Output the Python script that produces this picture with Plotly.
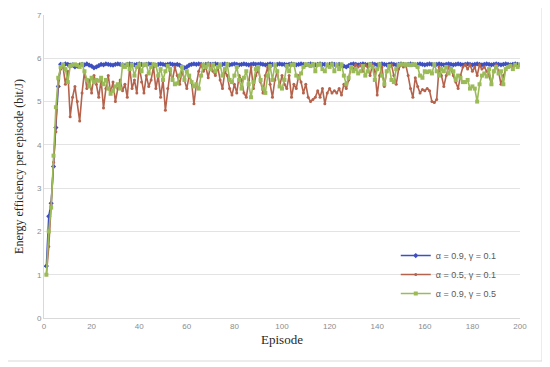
import plotly.graph_objects as go

episodes = list(range(1, 201))

blue_a09_g01 = [
    1.2, 2.35, 2.65, 3.5, 4.4, 5.35, 5.86, 5.85, 5.87, 5.86,
    5.84, 5.85, 5.8, 5.82, 5.85, 5.86, 5.85, 5.87, 5.84, 5.82,
    5.78, 5.8, 5.83, 5.86, 5.85, 5.87, 5.86, 5.85, 5.84, 5.86,
    5.87, 5.86, 5.85, 5.83, 5.86, 5.87, 5.86, 5.85, 5.86, 5.87,
    5.86, 5.85, 5.86, 5.87, 5.86, 5.85, 5.84, 5.86, 5.87, 5.86,
    5.85, 5.86, 5.87, 5.86, 5.85, 5.86, 5.84, 5.8, 5.78, 5.8,
    5.84, 5.86, 5.87, 5.86, 5.87, 5.86, 5.85, 5.86, 5.87, 5.86,
    5.86, 5.87, 5.86, 5.85, 5.86, 5.87, 5.86, 5.85, 5.86, 5.87,
    5.86, 5.85, 5.86, 5.87, 5.86, 5.85, 5.86, 5.87, 5.86, 5.86,
    5.87, 5.86, 5.85, 5.86, 5.87, 5.86, 5.85, 5.86, 5.87, 5.86,
    5.86, 5.85, 5.86, 5.87, 5.86, 5.85, 5.86, 5.87, 5.86, 5.85,
    5.86, 5.87, 5.86, 5.85, 5.86, 5.87, 5.86, 5.86, 5.85, 5.86,
    5.87, 5.86, 5.85, 5.86, 5.84, 5.82, 5.8, 5.83, 5.86, 5.87,
    5.86, 5.85, 5.86, 5.87, 5.86, 5.85, 5.86, 5.87, 5.86, 5.85,
    5.86, 5.87, 5.86, 5.85, 5.86, 5.87, 5.86, 5.85, 5.86, 5.87,
    5.86, 5.85, 5.86, 5.87, 5.86, 5.85, 5.86, 5.87, 5.86, 5.85,
    5.86, 5.87, 5.86, 5.85, 5.86, 5.87, 5.86, 5.85, 5.86, 5.87,
    5.86, 5.85, 5.86, 5.87, 5.86, 5.85, 5.86, 5.87, 5.86, 5.85,
    5.86, 5.87, 5.86, 5.85, 5.86, 5.87, 5.86, 5.85, 5.86, 5.87,
    5.86, 5.85, 5.86, 5.87, 5.86, 5.85, 5.86, 5.87, 5.86, 5.85,
]

brown_a05_g01 = [
    1.0, 1.65, 2.6, 3.6, 4.3, 5.5, 5.75, 5.8, 5.4, 5.7,
    4.65, 5.1, 5.35, 5.0, 4.55, 5.2, 5.7, 5.3, 5.5, 5.2,
    5.6, 5.4, 5.1, 5.5, 4.85, 5.3, 5.6, 5.2, 5.45, 5.0,
    5.3, 5.5, 5.25, 5.4, 5.1, 5.8, 5.3, 5.5, 5.2, 5.8,
    5.45, 5.2, 5.6, 5.35, 5.5, 5.8, 5.3, 5.6, 5.1, 5.5,
    4.8, 5.3, 5.7, 5.5, 5.8, 5.6, 5.4, 5.7, 5.5, 5.3,
    5.6, 5.45, 4.95, 5.4, 5.7, 5.85, 5.7, 5.8, 5.55, 5.85,
    5.7, 5.6, 5.8, 5.5, 5.3, 5.7, 5.6, 5.3, 5.15, 5.4,
    5.2, 5.6, 5.5, 5.2, 5.1, 5.5, 5.8, 5.3, 5.6, 5.75,
    5.45, 5.2, 5.6, 5.8, 5.4, 5.1, 5.5, 5.7, 5.35, 5.6,
    5.4, 5.3, 5.6, 5.1, 5.4, 5.3, 5.6, 5.45, 5.2, 5.4,
    5.1, 5.0, 5.05, 5.1, 5.25, 5.1, 5.3, 4.95, 5.2, 5.3,
    5.2, 5.25, 5.2, 5.3, 5.15, 5.4, 5.3, 5.5, 5.8, 5.75,
    5.85, 5.8, 5.85, 5.7, 5.85, 5.8, 5.6, 5.85, 5.7, 5.15,
    5.6, 5.8, 5.35, 5.7, 5.8, 5.85, 5.6, 5.4, 5.75, 5.85,
    5.8, 5.85, 5.6, 5.3, 5.1, 5.55, 5.35, 5.2, 5.28, 5.25,
    5.3, 5.25, 5.0, 4.98, 5.05, 5.8, 5.6, 5.35, 5.6, 5.8,
    5.75, 5.6, 5.45, 5.3, 5.6, 5.8, 5.85, 5.75, 5.85, 5.7,
    5.8, 5.6, 5.85, 5.75, 5.8, 5.7, 5.6, 5.4, 5.7, 5.85,
    5.7, 5.4, 5.6, 5.75, 5.8, 5.85, 5.8, 5.85, 5.8, 5.85,
]

green_a09_g05 = [
    1.0, 2.0, 2.55, 3.75, 4.87, 5.55, 5.8, 5.85, 5.75, 5.45,
    5.82, 5.85, 5.86, 5.84, 5.8, 5.86, 5.7, 5.5, 5.35, 5.55,
    5.45, 5.5, 5.48, 5.55, 5.4, 5.5, 5.3, 5.18, 5.25, 5.35,
    5.4, 5.3, 5.85, 5.8, 5.86, 5.75, 5.85, 5.6, 5.8, 5.86,
    5.7, 5.85, 5.86, 5.65, 5.8, 5.86, 5.84, 5.6, 5.75, 5.5,
    5.7, 5.82, 5.75, 5.5, 5.4, 5.42, 5.6, 5.8, 5.5, 5.7,
    5.6, 5.45, 5.35, 5.4, 5.3, 5.6, 5.85, 5.8, 5.86, 5.75,
    5.85, 5.7, 5.8, 5.85, 5.6, 5.75, 5.86, 5.5, 5.45, 5.6,
    5.8, 5.5, 5.3, 5.55, 5.7, 5.4, 5.1, 5.45, 5.75, 5.8,
    5.5, 5.3, 5.2, 5.6, 5.82, 5.5, 5.85, 5.7, 5.35, 5.3,
    5.5, 5.82, 5.7, 5.85, 5.86, 5.6, 5.55, 5.65, 5.8, 5.86,
    5.85, 5.82, 5.86, 5.7, 5.85, 5.86, 5.75, 5.7, 5.85, 5.8,
    5.86, 5.7, 5.85, 5.75, 5.86, 5.6, 5.4, 5.55, 5.8, 5.7,
    5.75, 5.65, 5.7, 5.82, 5.6, 5.7, 5.86, 5.8, 5.5, 5.75,
    5.86, 5.6, 5.4, 5.7, 5.82, 5.5, 5.45, 5.75, 5.85, 5.86,
    5.86, 5.85, 5.86, 5.84, 5.86, 5.85, 5.8, 5.6, 5.55, 5.7,
    5.68, 5.7, 5.65, 5.86, 5.7, 5.6, 5.75, 5.7, 5.8, 5.65,
    5.75, 5.7, 5.5, 5.6, 5.55, 5.45, 5.45, 5.5, 5.3, 5.35,
    5.3, 5.0, 5.4, 5.6, 5.65, 5.58, 5.75, 5.4, 5.7, 5.8,
    5.65, 5.7, 5.4, 5.75, 5.8, 5.82, 5.75, 5.85, 5.8, 5.85,
]

series_names = ["α = 0.9, γ = 0.1", "α = 0.5, γ = 0.1", "α = 0.9, γ = 0.5"]
x_ticks = list(range(0, 201, 20))
y_ticks = list(range(0, 8))

fig = go.Figure()
styles = [
    (blue_a09_g01, "#3e4fbf", "diamond", 4),
    (brown_a05_g01, "#b5634c", "circle", 3),
    (green_a09_g05, "#9bbb59", "square", 4),
]
for (vals, color, sym, msize), name in zip(styles, series_names):
    fig.add_trace(go.Scatter(
        x=episodes, y=vals, name=name, mode="lines+markers",
        line=dict(color=color, width=1.6),
        marker=dict(color=color, symbol=sym, size=msize),
    ))

# page body has an 8px margin, so the figure is sized to fit the 550x367 window
fig.update_layout(
    width=542, height=359,
    margin=dict(l=36, r=30, t=7, b=49),
    paper_bgcolor="white", plot_bgcolor="white",
    showlegend=True,
    legend=dict(
        x=0.739, y=0.254, xanchor="left", yanchor="top",
        bgcolor="rgba(255,255,255,0)",
        font=dict(family="Liberation Sans, Arial", size=9, color="#595959"),
        itemwidth=30, tracegroupgap=0,
    ),
    xaxis=dict(
        range=[0, 200], tickvals=x_ticks, ticktext=[str(t) for t in x_ticks],
        showgrid=False, zeroline=False, automargin=False,
        showline=True, linecolor="#d9d9d9", linewidth=1,
        ticks="", tickfont=dict(family="Liberation Sans, Arial", size=8, color="#8c8c8c"),
        title=dict(text="Episode", font=dict(family="Liberation Serif, Times New Roman", size=13, color="#262626"), standoff=5),
    ),
    yaxis=dict(
        range=[0, 7], tickvals=y_ticks, ticktext=[str(t) for t in y_ticks],
        showgrid=True, gridcolor="#e3e3e3", gridwidth=1, zeroline=False, automargin=False,
        showline=True, linecolor="#d9d9d9", linewidth=1,
        ticks="", tickfont=dict(family="Liberation Sans, Arial", size=8, color="#8c8c8c"),
        title=dict(text="Energy efficiency per episode (bit/J)", font=dict(family="Liberation Serif, Times New Roman", size=12, color="#262626"), standoff=10),
    ),
    shapes=[dict(type="rect", xref="paper", yref="paper",
                 x0=-37/476, x1=(542-44)/476, y0=-(361-318)/303, y1=(318-5)/303,
                 line=dict(color="#d9d9d9", width=1), fillcolor="rgba(0,0,0,0)", layer="below")],
)

fig.write_html("out.html")
